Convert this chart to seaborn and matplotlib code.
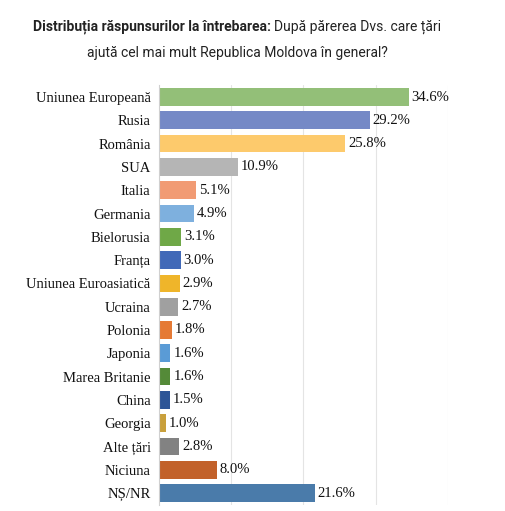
import matplotlib
matplotlib.use("Agg")
import matplotlib.pyplot as plt
import seaborn as sns
import pandas as pd
import numpy as np

# categories and values (percent)
countries = ["Uniunea Europeană", "Rusia", "România", "SUA", "Italia", "Germania",
             "Bielorusia", "Franța", "Uniunea Euroasiatică", "Ucraina", "Polonia",
             "Japonia", "Marea Britanie", "China", "Georgia", "Alte țări",
             "Niciuna", "NȘ/NR"]
values = [34.6, 29.2, 25.8, 10.9, 5.1, 4.9, 3.1, 3.0, 2.9, 2.7, 1.8, 1.6,
          1.6, 1.5, 1.0, 2.8, 8.0, 21.6]
colors = ["#93bf78", "#7589c6", "#fdca6c", "#b5b5b5", "#f19b74", "#7eb0de",
          "#6fa847", "#4169b8", "#efb52a", "#a0a0a0", "#e57a35", "#5a9bd6",
          "#548a38", "#2d5597", "#c9a03c", "#828282", "#c2612a", "#4a7baa"]

title_bold = "Distribuția răspunsurilor la întrebarea: "
title_rest = "După părerea Dvs. care țări"
title_line2 = "ajută cel mai mult Republica Moldova în general?"

df = pd.DataFrame({"country": countries, "value": values})

sns.set_style("white")
plt.rcParams["font.family"] = ["Liberation Serif", "DejaVu Serif"]

fig = plt.figure(figsize=(5.06, 5.11), dpi=100)
ax = fig.add_axes([0.314, 0.0123, 0.571, 0.8206])

sns.barplot(data=df, y="country", x="value", hue="country", palette=colors,
            legend=False, width=0.76, saturation=1, linewidth=0, ax=ax,
            orient="h")

ax.set_xlim(0, 40)
ax.set_ylim(len(countries) - 0.5, -0.5)
ax.set_xticks([10, 20, 30, 40])
ax.set_xticklabels([])
ax.xaxis.grid(True, color="#e4e4e4", linewidth=0.8)
ax.set_axisbelow(True)
ax.set_xlabel("")
ax.set_ylabel("")
for s in ["top", "right", "bottom"]:
    ax.spines[s].set_visible(False)
ax.spines["left"].set_color("#d0d0d0")
ax.tick_params(axis="x", length=0)
ax.tick_params(axis="y", which="major", length=0, pad=6, labelsize=10.5,
               labelcolor="#111111")
ax.set_yticks(np.arange(-0.5, len(countries), 1), minor=True)
ax.tick_params(axis="y", which="minor", length=4, color="#c8c8c8", width=0.8)

for i, v in enumerate(values):
    ax.text(v + 0.4, i, f"{v:.1f}%", va="center", ha="left",
            fontsize=10.5, color="#111111")

# title: bold part followed by regular part, fitted to the reference widths
fig.canvas.draw()
r = fig.canvas.get_renderer()
W = fig.get_figwidth() * fig.dpi


def fitted(x, y, s, target, **kw):
    t = fig.text(x, y, s, fontsize=11, va="center", color="#222222", **kw)
    w = t.get_window_extent(r).width
    t.set_fontsize(11 * target / w)
    return t


t1 = fitted(0, 0.947, title_bold, 241, fontweight="bold",
            family=["Liberation Sans Narrow", "Roboto"])
t2 = fitted(0, 0.947, title_rest, 166, family=["Roboto"])
w1 = t1.get_window_extent(r).width
w2 = t2.get_window_extent(r).width
x0 = 237 - (w1 + w2) / 2
t1.set_x(x0 / W)
t2.set_x((x0 + w1) / W)
fitted(237 / W, 0.896, title_line2, 301, family=["Roboto"], ha="center")

fig.savefig("out.png", dpi=100, facecolor="white")
